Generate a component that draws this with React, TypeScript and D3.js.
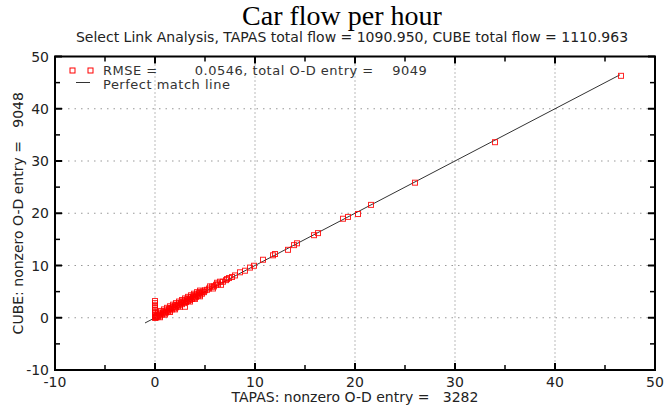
import React from "react";
import * as d3 from "d3";

const tapas: number[] = [
  0, 0, 0, 0, 0, 0, 0, 0, 0, 0, 0, 0,
  0.05, 0.1, 0.15, 0.2, 0.3, 0.4, 0.5, 0.6, 0.7, 0.8, 0.9, 1.0, 1.1, 1.2, 1.3, 1.4, 1.5,
  1.6, 1.7, 1.8, 1.9, 2.0, 2.1, 2.2, 2.3, 2.4, 2.5, 2.6, 2.7, 2.8, 2.9, 3.0, 3.0, 3.1,
  3.2, 3.3, 3.4, 3.5, 3.6, 3.7, 3.8, 3.9, 4.0, 4.1, 4.2, 4.3, 4.4, 4.5, 4.6, 4.7, 4.8,
  4.9, 5.0, 5.2, 5.4, 5.7, 5.9, 6.1, 6.3, 6.5, 6.8, 7.1, 7.4, 7.7, 8.0, 8.5, 9.0, 9.5,
  9.9, 10.8, 11.8, 12.0, 13.3, 13.9, 14.2, 15.9, 16.3, 18.8, 19.3, 20.3, 21.6, 26.0,
  34.0, 46.6,
  0.3, 0.6, 0.9, 1.2, 1.5, 1.8, 2.1, 2.4, 2.7, 3.0, 3.3, 3.6, 3.9, 4.2, 4.5,
  0.5, 1.0, 1.5, 2.0, 2.5, 3.5, 4.0, 4.5,
  5.5, 5.8, 6.2, 6.6, 7.2,
];
const cube: number[] = [
  0, 0.2, 0.4, 0.6, 0.9, 1.2, 1.5, 1.8, 2.1, 2.4, 2.8, 3.2,
  0.0, 0.2, 0.1, 0.35, 0.2, 0.6, 0.4, 0.8, 0.6, 1.0, 0.8, 1.2, 1.0, 1.4, 1.2, 1.65, 1.4,
  1.85, 1.6, 2.05, 1.8, 2.3, 2.0, 2.45, 2.2, 2.7, 2.4, 2.85, 2.6, 3.1, 2.8, 2.1, 3.25, 3.0,
  3.5, 3.2, 3.65, 3.4, 3.9, 3.6, 4.05, 3.8, 4.3, 4.0, 4.45, 4.2, 4.7, 4.4, 4.85, 4.6, 5.05,
  4.9, 5.25, 5.35, 5.6, 5.95, 6.0, 6.3, 6.4, 6.9, 6.9, 7.2, 7.6, 7.8, 8.1, 8.7, 9.0, 9.6,
  9.95, 11.1, 11.95, 12.2, 13.0, 13.9, 14.25, 15.8, 16.2, 18.95, 19.3, 19.85, 21.6, 25.85,
  33.6, 46.3,
  1.0, 1.3, 1.6, 1.9, 2.2, 2.5, 2.8, 3.1, 3.4, 3.7, 4.0, 4.3, 4.6, 4.9, 5.2,
  0.1, 0.6, 1.1, 1.6, 2.1, 3.1, 3.6, 4.1,
  6.0, 5.6, 6.7, 6.3, 7.4,
];
const matchLine: number[] = [-1, 46.5];
const xTicks: number[] = [-10, 0, 10, 20, 30, 40, 50];
const yTicks: number[] = [-10, 0, 10, 20, 30, 40, 50];
const minorTicks: number[] = [-5, 5, 15, 25, 35, 45];
const gridValues: number[] = [0, 10, 20, 30, 40];

const title = "Car flow per hour";
const subtitle = "Select Link Analysis, TAPAS total flow = 1090.950, CUBE total flow = 1110.963";
const legend1 = "RMSE =        0.0546, total O-D entry =    9049";
const legend2 = "Perfect match line";
const xTitle = "TAPAS: nonzero O-D entry =   3282";
const yTitle = "CUBE: nonzero O-D entry =   9048";

const W = 665;
const H = 409;
const L = 55, R = 655, T = 56.5, B = 370;
const SANS = "'DejaVu Sans', Verdana, sans-serif";

export default function App() {
  const x = d3.scaleLinear().domain([-10, 50]).range([L, R]);
  const y = d3.scaleLinear().domain([-10, 50]).range([B, T]);
  const line = d3.line<number>().x((d) => x(d)).y((d) => y(d));
  const S = 5;
  return (
    <svg width={W} height={H} style={{ position: "absolute", left: 0, top: 0, background: "#fff" }}>
      <text x={342} y={25} textAnchor="middle" fontFamily="'Liberation Serif', 'Times New Roman', serif" fontSize={28} fill="#000">{title}</text>
      <text x={352} y={41.5} textAnchor="middle" fontFamily={SANS} fontSize={14} fill="#222">{subtitle}</text>

      {gridValues.map((v) => (
        <line key={"gx" + v} x1={x(v)} x2={x(v)} y1={T} y2={B} stroke="#777" strokeWidth={1} strokeDasharray="1,3" />
      ))}
      {gridValues.map((v) => (
        <line key={"gy" + v} x1={L} x2={R} y1={y(v)} y2={y(v)} stroke="#999" strokeWidth={1.2} strokeDasharray="1.5,5" />
      ))}

      {xTicks.map((v) => (
        <g key={"xt" + v}>
          <line x1={x(v)} x2={x(v)} y1={B} y2={B - 7} stroke="#000" strokeWidth={2} />
          <line x1={x(v)} x2={x(v)} y1={T} y2={T + 7} stroke="#000" strokeWidth={2} />
          <text x={x(v)} y={387} textAnchor="middle" fontFamily={SANS} fontSize={14} fill="#222">{v}</text>
        </g>
      ))}
      {yTicks.map((v) => (
        <g key={"yt" + v}>
          <line x1={L} x2={L + 7} y1={y(v)} y2={y(v)} stroke="#000" strokeWidth={2} />
          <line x1={R} x2={R - 7} y1={y(v)} y2={y(v)} stroke="#000" strokeWidth={2} />
          <text x={49} y={y(v) + 5} textAnchor="end" fontFamily={SANS} fontSize={14} fill="#222">{v}</text>
        </g>
      ))}
      {minorTicks.map((v) => (
        <g key={"mt" + v}>
          <line x1={x(v)} x2={x(v)} y1={B} y2={B - 5} stroke="#000" strokeWidth={1.5} />
          <line x1={x(v)} x2={x(v)} y1={T} y2={T + 5} stroke="#000" strokeWidth={1.5} />
          <line x1={L} x2={L + 5} y1={y(v)} y2={y(v)} stroke="#000" strokeWidth={1.5} />
          <line x1={R} x2={R - 5} y1={y(v)} y2={y(v)} stroke="#000" strokeWidth={1.5} />
        </g>
      ))}

      <path d={line(matchLine) || ""} stroke="#333" strokeWidth={1} fill="none" />

      {tapas.map((tv, i) => (
        <rect key={"p" + i} x={x(tv) - S / 2} y={y(cube[i]) - S / 2} width={S} height={S} fill="none" stroke="#f00" strokeWidth={1} strokeOpacity={0.85} />
      ))}

      <rect x={L} y={T} width={R - L} height={B - T} fill="none" stroke="#000" strokeWidth={2} />

      <rect x={72.5 - S / 2} y={70.5 - S / 2} width={S} height={S} fill="none" stroke="#f00" strokeWidth={1} />
      <rect x={90.5 - S / 2} y={70.5 - S / 2} width={S} height={S} fill="none" stroke="#f00" strokeWidth={1} />
      <text x={103} y={75} fontFamily={SANS} fontSize={13} letterSpacing={0.5} fill="#333" style={{ whiteSpace: "pre" }}>{legend1}</text>
      <line x1={76} x2={90} y1={82.5} y2={82.5} stroke="#333" strokeWidth={1} />
      <text x={103} y={88.5} fontFamily={SANS} fontSize={13} letterSpacing={0.5} fill="#333">{legend2}</text>

      <text x={355} y={402} textAnchor="middle" fontFamily={SANS} fontSize={14} fill="#222" style={{ whiteSpace: "pre" }}>{xTitle}</text>
      <text transform={`translate(23,${(T + B) / 2}) rotate(-90)`} textAnchor="middle" fontFamily={SANS} fontSize={14} fill="#222" style={{ whiteSpace: "pre" }}>{yTitle}</text>
    </svg>
  );
}
